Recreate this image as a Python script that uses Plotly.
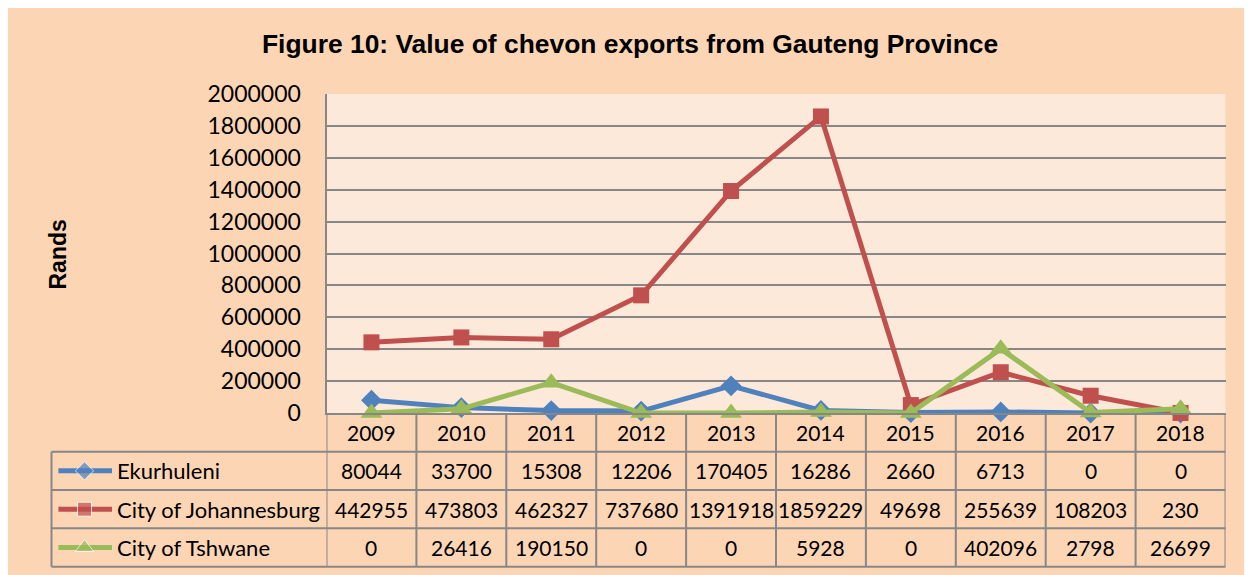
import plotly.graph_objects as go

# ---- data ----
years = ["2009", "2010", "2011", "2012", "2013", "2014", "2015", "2016", "2017", "2018"]
ekurhuleni = [80044, 33700, 15308, 12206, 170405, 16286, 2660, 6713, 0, 0]
johannesburg = [442955, 473803, 462327, 737680, 1391918, 1859229, 49698, 255639, 108203, 230]
tshwane = [0, 26416, 190150, 0, 0, 5928, 0, 402096, 2798, 26699]
series_names = ["Ekurhuleni", "City of Johannesburg", "City of Tshwane"]
y_ticks = [0, 200000, 400000, 600000, 800000, 1000000, 1200000, 1400000, 1600000, 1800000, 2000000]
title_text = "Figure 10: Value of chevon exports from Gauteng Province"
y_title = "Rands"

# ---- style ----
W, H = 1252, 575
OX, OY = 7.5, 8   # page offset of the plot div
def px(x):
    return (x - OX) / W
def py(y):
    return 1 - (y - OY) / H

colors = ["#4F81BD", "#C0504D", "#9BBB59"]
symbols = ["diamond", "square", "triangle-up"]
msizes = [16, 16, 19]
grid = "#878787"
outer_bg = "#FCD5B5"
plot_bg = "#FDE9D9"
font_fam = "Lato, Carlito, 'Open Sans', sans-serif"
title_fam = "'Liberation Sans Narrow', 'Arial Narrow', 'Liberation Sans', sans-serif"

PL, PR, PT, PB = 326, 1225, 94, 413
row_edges = [413, 451.7, 490, 528.3, 566.7]
LEG_L = 51

all_series = [ekurhuleni, johannesburg, tshwane]

fig = go.Figure()
for name, vals, c, s, ms in zip(series_names, all_series, colors, symbols, msizes):
    fig.add_trace(go.Scatter(
        x=years, y=vals, name=name, mode="lines+markers",
        line=dict(color=c, width=5),
        marker=dict(symbol=s, size=ms, color=c),
        cliponaxis=False, showlegend=False,
    ))

# legend keys inside table
key_sizes = [14, 14, 16]
for i, (c, s, ms) in enumerate(zip(colors, symbols, key_sizes)):
    fig.add_trace(go.Scatter(
        x=[0.025, 0.12, 0.22], y=[-i, -i, -i], mode="lines+markers",
        line=dict(color=c, width=5),
        marker=dict(symbol=s, size=[0, ms, 0], color=c),
        xaxis="x2", yaxis="y2", showlegend=False, hoverinfo="skip", cliponaxis=False,
    ))

shapes = [
    dict(type="rect", xref="paper", yref="paper", x0=px(5), x1=px(1265), y0=py(4), y1=py(600),
         fillcolor=outer_bg, line=dict(color=grid, width=2.5), layer="below"),
    dict(type="rect", xref="paper", yref="paper", x0=px(PL), x1=px(PR), y0=py(PT), y1=py(PB),
         fillcolor=plot_bg, line=dict(width=0), layer="below"),
]
for ye in row_edges[1:]:
    shapes.append(dict(type="line", xref="paper", yref="paper", x0=px(LEG_L), x1=px(PR),
                       y0=py(ye), y1=py(ye), line=dict(color=grid, width=2)))
for k in range(len(years) + 1):
    shapes.append(dict(type="line", xref="x", yref="paper", x0=k - 0.5, x1=k - 0.5,
                       y0=py(row_edges[0]), y1=py(row_edges[-1]), line=dict(color=grid, width=2)))
shapes.append(dict(type="line", xref="paper", yref="paper", x0=px(LEG_L), x1=px(LEG_L),
                   y0=py(row_edges[1]), y1=py(row_edges[-1]), line=dict(color=grid, width=2)))

annotations = [
    dict(text="<b>" + title_text + "</b>", xref="paper", yref="paper", x=px(629), y=py(44),
         showarrow=False, font=dict(family=title_fam, size=26.4, color="black"),
         xanchor="center", yanchor="middle"),
    dict(text="<b>" + y_title + "</b>", xref="paper", yref="paper", x=px(57), y=py(255),
         showarrow=False, textangle=-90, font=dict(family=title_fam, size=23, color="black"),
         xanchor="center", yanchor="middle"),
]
hdr_y = (row_edges[0] + row_edges[1]) / 2
for k, yr in enumerate(years):
    annotations.append(dict(text=yr, xref="x", yref="paper", x=k, y=py(hdr_y), showarrow=False,
                            font=dict(family=font_fam, size=21, color="black"),
                            xanchor="center", yanchor="middle"))
for r, (name, vals) in enumerate(zip(series_names, all_series)):
    yc = (row_edges[r + 1] + row_edges[r + 2]) / 2
    annotations.append(dict(text=name, xref="paper", yref="paper", x=px(114), y=py(yc), showarrow=False,
                            font=dict(family=font_fam, size=22, color="black"),
                            xanchor="left", yanchor="middle"))
    for k, v in enumerate(vals):
        annotations.append(dict(text=str(v), xref="x", yref="paper", x=k, y=py(yc), showarrow=False,
                                font=dict(family=font_fam, size=21, color="black"),
                                xanchor="center", yanchor="middle"))

fig.update_layout(
    width=W, height=H, autosize=False,
    margin=dict(l=0, r=0, t=0, b=0, pad=0, autoexpand=False),
    paper_bgcolor="white", plot_bgcolor="rgba(0,0,0,0)",
    showlegend=False,
    xaxis=dict(domain=[px(PL), px(PR)], type="category", range=[-0.5, len(years) - 0.5],
               showticklabels=False, ticks="", showgrid=False, zeroline=False,
               showline=True, linecolor=grid, linewidth=2, fixedrange=True, automargin=False),
    yaxis=dict(domain=[py(PB), py(PT)], range=[0, 2000000], tickvals=y_ticks,
               ticktext=[str(t) for t in y_ticks], showgrid=True, gridcolor=grid, gridwidth=2,
               zeroline=False, showline=True, linecolor=grid, linewidth=2, ticks="",
               ticklabelstandoff=19, tickfont=dict(family=font_fam, size=23, color="black"),
               fixedrange=True, automargin=False),
    xaxis2=dict(domain=[px(LEG_L), px(PL)], range=[0, 1], visible=False, fixedrange=True, anchor="y2"),
    yaxis2=dict(domain=[py(row_edges[-1]), py(row_edges[1])], range=[-2.5, 0.5], visible=False,
                fixedrange=True, anchor="x2"),
    shapes=shapes, annotations=annotations,
)

fig.write_html("out.html")
